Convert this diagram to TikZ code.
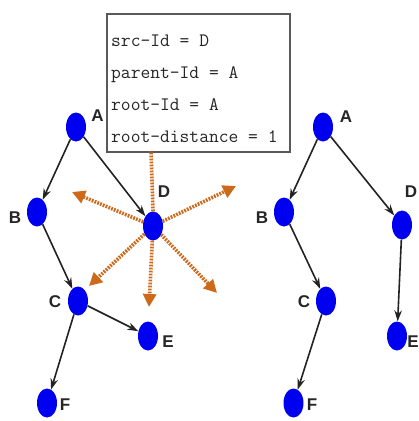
\documentclass[tikz,border=0pt]{standalone}
\usepackage{fontspec}
\newfontfamily\labfont{Liberation Sans}
\usetikzlibrary{arrows.meta,shapes.geometric}
\definecolor{nodeblue}{RGB}{0,0,240}
\definecolor{sigorange}{RGB}{205,105,25}
\definecolor{edgegray}{RGB}{35,35,35}
\tikzset{
  vtx/.style={ellipse, fill=nodeblue, minimum width=20pt, minimum height=29pt, inner sep=0pt},
  lbl/.style={font=\labfont\bfseries\fontsize{17}{17}\selectfont, inner sep=0pt, text=black!85},
  tree/.style={draw=edgegray, line width=1.6pt, -{Stealth[length=11pt,width=7.5pt]}},
  sig/.style={draw=sigorange, line width=3.6pt, dash pattern=on 1.8pt off 1.2pt, -{Triangle[length=13pt,width=13pt]}},
  sigplain/.style={draw=sigorange, line width=3.6pt, dash pattern=on 1.8pt off 1.2pt},
  infotxt/.style={font=\ttfamily\fontsize{19}{19}\selectfont, anchor=base west, inner sep=0pt, text=black!85}
}
\begin{document}
\begin{tikzpicture}[x=1pt,y=-1pt]
\useasboundingbox (0,0) rectangle (419,421);
\fill[white] (0,0) rectangle (419,421);
% info box
\node[draw=gray!70!black, line width=1.6pt, anchor=north west, minimum width=183pt, minimum height=138pt, inner sep=0pt, fill=white] (box) at (106,13) {};
\node[infotxt] (t1) at (111,46) {src-Id = D};
\node[infotxt] (t2) at (111,78) {parent-Id = A};
\node[infotxt] (t3) at (111,110) {root-Id = A};
\node[infotxt] (t4) at (111,142) {root-distance = 1};
% left graph nodes
\node[vtx] (A) at (76,127) {};
\node[vtx] (B) at (37,212) {};
\node[vtx] (D) at (153,226) {};
\node[vtx] (C) at (78,301) {};
\node[vtx] (E) at (148,336) {};
\node[vtx] (F) at (47,403) {};
\node[lbl] (lA) at (97.5,116) {A};
\node[lbl] (lB) at (15,218) {B};
\node[lbl] (lD) at (164,192) {D};
\node[lbl] (lC) at (55,302) {C};
\node[lbl] (lE) at (168,342) {E};
\node[lbl] (lF) at (65,405) {F};
% right graph nodes
\node[vtx] (A2) at (323,127) {};
\node[vtx] (B2) at (284,212) {};
\node[vtx] (D2) at (402,225) {};
\node[vtx] (C2) at (326,301) {};
\node[vtx] (E2) at (397,336) {};
\node[vtx] (F2) at (293.5,403) {};
\node[lbl] (lA2) at (346,117) {A};
\node[lbl] (lB2) at (262,218) {B};
\node[lbl] (lD2) at (411,192) {D};
\node[lbl] (lC2) at (304,302) {C};
\node[lbl] (lE2) at (413,342) {E};
\node[lbl] (lF2) at (312,405) {F};
% broadcast endpoints
\coordinate (pUL) at (72,192);
\coordinate (pUR) at (236,186);
\coordinate (pLL) at (89,286);
\coordinate (pDn) at (149,307);
\coordinate (pLR) at (217,293);
\coordinate (pUp) at (151,151);
% orange broadcast
\draw[sigplain] (D.north) -- (pUp);
\draw[sig] (D) -- (pUL);
\draw[sig] (D) -- (pUR);
\draw[sig] (D) -- (pLL);
\draw[sig] (D) -- (pDn);
\draw[sig] (D) -- (pLR);
% left tree edges
\draw[tree] (A) -- (B);
\draw[tree] (A) -- (D);
\draw[tree] (B) -- (C);
\draw[tree] (C) -- (E);
\draw[tree] (C) -- (F);
% right tree edges
\draw[tree] (A2) -- (B2);
\draw[tree] (A2) -- (D2);
\draw[tree] (B2) -- (C2);
\draw[tree] (D2) -- (E2);
\draw[tree] (C2) -- (F2);
\end{tikzpicture}
\end{document}
